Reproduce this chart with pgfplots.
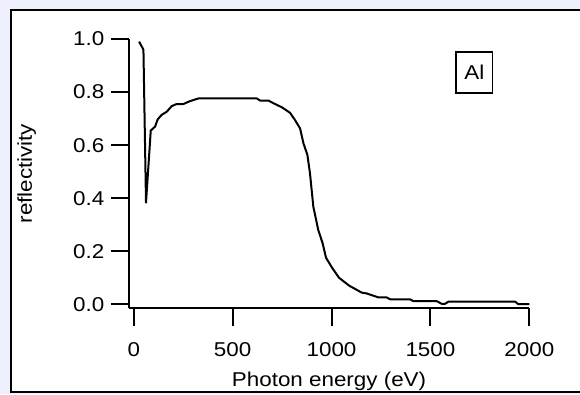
\documentclass[border=0pt]{standalone}
\usepackage{fontspec}
\setmainfont{Liberation Sans}[FakeStretch=1.12]
\usepackage{pgfplots}
\pgfplotsset{compat=1.18}
\definecolor{bgl}{RGB}{238,240,252}
\newcommand\chartfont{\fontsize{20bp}{24bp}\selectfont}
\begin{document}
\begin{tikzpicture}[x=1bp,y=1bp]
\useasboundingbox (0,0) rectangle (580,394);
\fill[bgl] (0,0) rectangle (580,394);
\filldraw[fill=white, draw=black, line width=1.6bp] (11,2.3) rectangle (586,384);
\begin{axis}[
  at={(128.8bp,85.7bp)}, anchor=south west,
  scale only axis, width=400.5bp, height=269.3bp,
  xmin=-25, xmax=2000, ymin=-0.015, ymax=1.0,
  axis x line=bottom, axis y line=left,
  axis line style={-, line width=2bp, black},
  xtick={0,500,1000,1500,2000},
  ytick={0,0.2,0.4,0.6,0.8,1.0},
  tick align=outside,
  major tick length=18bp,
  every tick/.style={line width=2bp, black},
  tick label style={font=\chartfont},
  /pgf/number format/assume math mode=true,
  xticklabel style={yshift=-13bp, /pgf/number format/.cd, set thousands separator={}},
  yticklabel style={xshift=-3bp, /pgf/number format/.cd, fixed, fixed zerofill, precision=1},
  label style={font=\chartfont},
  xlabel={Photon energy (eV)},
  ylabel={reflectivity},
  xlabel style={at={(axis description cs:0.5,-0.2911)}, anchor=base},
  ylabel style={at={(axis description cs:-0.2417,0.5)}, anchor=base},
]
\addplot[black, line width=2bp, line join=round] coordinates {
(27,0.99) (49,0.96) (62,0.383) (86,0.655) (108,0.67) (121,0.697) (141,0.714)
(167,0.726) (192,0.747) (217,0.755) (251,0.755) (285,0.766) (327,0.776)
(622,0.776) (639,0.768) (681,0.768) (706,0.758) (748,0.743) (790,0.722)
(815,0.695) (841,0.663) (858,0.607) (878,0.563) (891,0.494) (908,0.368)
(933,0.28) (955,0.23) (972,0.176) (1001,0.14) (1038,0.10) (1090,0.07)
(1153,0.044) (1178,0.041) (1237,0.026) (1279,0.026) (1296,0.019) (1397,0.019)
(1414,0.012) (1532,0.012) (1557,0.002) (1574,0.002) (1591,0.01) (1928,0.01)
(1944,0.001) (2000,0.001)
};
\node[draw=black, line width=1.5bp, minimum width=36.7bp, minimum height=41bp,
  inner sep=0pt, font=\chartfont] at (axis cs:1722,0.873) {Al};
\end{axis}
\end{tikzpicture}
\end{document}
